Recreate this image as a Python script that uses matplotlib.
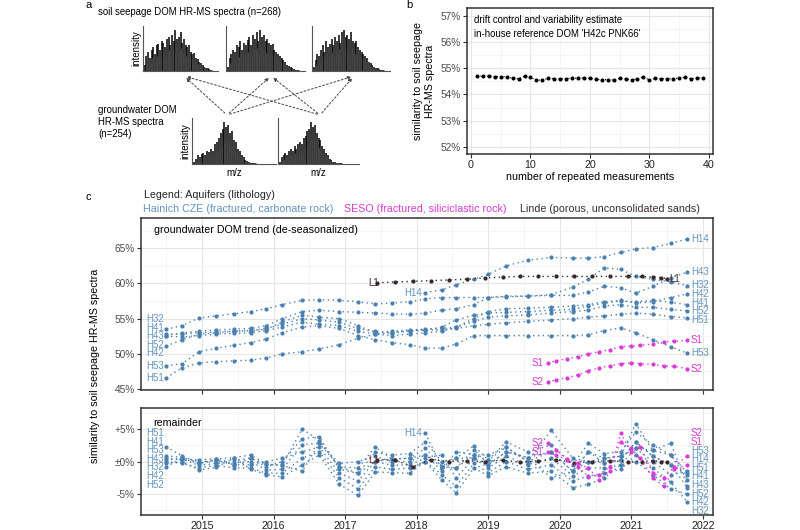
import numpy as np
import matplotlib
matplotlib.use('Agg')
import matplotlib.pyplot as plt
from matplotlib.ticker import FixedLocator

plt.rcParams['font.family'] = ['Liberation Sans', 'DejaVu Sans']

W, H = 800, 530

# ---------------- data ----------------
# panel a: schematic peak heights (relative intensity)
spec_soil_1 = [0.15, 0.35, 0.45, 0.3, 0.5, 0.55, 0.4, 0.6, 0.62, 0.5, 0.7, 0.65, 0.55, 0.75, 0.8, 0.6, 0.85, 0.7, 0.95, 0.75,
               0.8, 0.9, 0.65, 0.75, 0.6, 0.55, 0.6, 0.45, 0.4, 0.42, 0.3, 0.28, 0.22, 0.18, 0.14, 0.1, 0.08, 0.06, 0.04, 0.03]
spec_soil_2 = [0.1, 0.3, 0.4, 0.5, 0.45, 0.6, 0.55, 0.7, 0.5, 0.65, 0.6, 0.72, 0.8, 0.6, 0.85, 0.75, 0.9, 0.7, 0.95, 0.8,
               0.85, 0.7, 0.75, 0.65, 0.6, 0.62, 0.5, 0.45, 0.4, 0.35, 0.3, 0.25, 0.2, 0.15, 0.12, 0.1, 0.07, 0.05, 0.03, 0.02]
spec_soil_3 = [0.1, 0.25, 0.4, 0.35, 0.5, 0.6, 0.45, 0.7, 0.55, 0.62, 0.75, 0.6, 0.8, 0.7, 0.85, 0.65, 0.9, 0.95, 0.8, 0.85,
               0.75, 0.9, 0.7, 0.65, 0.7, 0.55, 0.5, 0.45, 0.4, 0.35, 0.3, 0.22, 0.18, 0.14, 0.1, 0.08, 0.06, 0.04, 0.03, 0.02]
spec_gw_1 = [0.05, 0.12, 0.2, 0.15, 0.22, 0.25, 0.2, 0.3, 0.28, 0.35, 0.3, 0.45, 0.5, 0.6, 0.7, 0.8, 0.95, 0.85, 0.9, 0.7,
             0.75, 0.55, 0.5, 0.35, 0.3, 0.2, 0.15, 0.1, 0.06, 0.04, 0.03, 0.02, 0.02, 0.01, 0.01, 0.01, 0.01, 0.0, 0.0, 0.0]
spec_gw_2 = [0.05, 0.15, 0.2, 0.25, 0.2, 0.3, 0.35, 0.3, 0.4, 0.35, 0.45, 0.5, 0.45, 0.6, 0.65, 0.75, 0.8, 0.95, 0.85, 0.9,
             0.7, 0.6, 0.55, 0.4, 0.35, 0.25, 0.2, 0.12, 0.08, 0.05, 0.04, 0.03, 0.02, 0.02, 0.01, 0.01, 0.01, 0.0, 0.0, 0.0]

# panel b: repeated reference measurements
ref_n = list(range(1, 40))
ref_sim = [54.70, 54.70, 54.70, 54.68, 54.68, 54.68, 54.62, 54.60, 54.70, 54.65, 54.55, 54.55, 54.62, 54.60, 54.60,
           54.60, 54.63, 54.62, 54.63, 54.62, 54.58, 54.56, 54.57, 54.55, 54.62, 54.60, 54.55, 54.60, 54.68, 54.55,
           54.62, 54.60, 54.60, 54.60, 54.62, 54.65, 54.60, 54.63, 54.63]

# panel c: Hainich wells (decimal years)
t_hai = [2014.5, 2014.72, 2014.96, 2015.2, 2015.45, 2015.68, 2015.9, 2016.12, 2016.4, 2016.64, 2016.92, 2017.18,
         2017.42, 2017.65, 2017.9, 2018.12, 2018.35, 2018.55, 2018.8, 2019.0, 2019.25, 2019.55, 2019.88, 2020.18,
         2020.4, 2020.62, 2020.85, 2021.06, 2021.3, 2021.55, 2021.78]
t_h14 = t_hai[15:]
trend_hai = {
    'H32': [53.5, 54.0, 55.1, 55.4, 55.7, 56.0, 56.4, 57.0, 57.6, 57.7, 57.6, 57.4, 57.1, 57.2, 57.4, 57.8, 58.0, 58.0,
            58.0, 58.0, 58.1, 58.2, 58.4, 59.5, 60.6, 62.2, 62.0, 61.0, 60.6, 60.2, 59.7],
    'H43': [52.6, 53.0, 53.2, 53.4, 53.5, 53.6, 54.0, 55.0, 56.0, 56.2, 56.0, 55.9, 55.8, 55.7, 55.6, 55.8, 56.2, 56.4,
            57.0, 58.0, 58.2, 58.2, 58.3, 58.3, 58.8, 59.6, 59.4, 58.6, 59.6, 60.8, 61.6],
    'H42': [51.1, 52.0, 52.8, 53.0, 53.2, 53.3, 53.5, 54.5, 55.5, 55.2, 55.0, 54.0, 53.0, 53.2, 53.4, 53.5, 53.6, 53.8,
            55.0, 56.0, 56.4, 56.5, 56.6, 56.8, 57.0, 57.4, 57.6, 57.2, 57.4, 58.0, 58.5],
    'H41': [52.8, 52.8, 53.0, 53.1, 53.2, 53.3, 53.6, 54.2, 55.0, 54.8, 54.5, 53.6, 53.2, 53.0, 53.3, 53.4, 53.8, 54.8,
            55.5, 55.8, 55.9, 56.0, 56.2, 56.3, 56.8, 57.2, 57.5, 57.4, 57.6, 57.3, 57.0],
    'H52': [52.5, 52.4, 52.6, 52.8, 52.9, 53.0, 53.3, 53.8, 54.5, 54.2, 54.0, 53.2, 52.8, 52.6, 52.8, 53.0, 53.2, 53.8,
            54.6, 55.2, 55.4, 55.5, 55.8, 56.0, 56.2, 56.8, 57.0, 56.6, 56.6, 56.3, 56.1],
    'H51': [46.6, 48.0, 48.7, 48.9, 49.0, 49.1, 49.4, 50.0, 50.3, 50.7, 51.3, 52.2, 52.8, 53.0, 53.2, 53.4, 53.4, 53.6,
            54.0, 54.2, 54.4, 54.6, 54.8, 55.0, 55.2, 55.4, 55.6, 55.8, 55.6, 55.3, 55.1],
    'H53': [48.3, 48.6, 50.3, 50.8, 51.2, 51.6, 52.1, 53.0, 53.8, 54.0, 53.6, 52.6, 52.0, 51.6, 51.3, 50.8, 50.8, 51.4,
            52.6, 52.6, 52.6, 52.6, 52.6, 52.6, 52.7, 53.3, 53.7, 53.0, 52.0, 51.0, 50.1],
}
trend_h14 = [58.7, 59.1, 59.8, 60.6, 61.3, 62.5, 63.3, 63.7, 63.6, 63.6, 63.8, 64.4, 64.9, 65.1, 65.7, 66.3]

rem_hai = {
    'H32': [0.0, -0.3, -1.0, -0.6, -1.0, -1.0, -1.8, -1.8, 0.5, 1.5, -2.5, -4.2, -0.8, -1.2, -1.0, 0.0, -2.0, -3.8,
            -0.3, -1.7, 0.0, -1.2, -0.5, -3.0, -2.2, -1.8, -1.2, 1.0, -1.0, -3.2, -6.2],
    'H43': [0.3, 0.4, -0.6, -0.3, -0.2, 0.0, -1.3, -1.2, 2.6, 2.8, -0.3, 0.0, 0.8, 0.0, 0.0, 1.0, -1.4, 1.5, 1.0, 1.0,
            2.2, 0.0, 4.8, 0.5, 0.0, 0.5, 0.8, 5.8, 1.7, 2.8, -3.7],
    'H42': [-0.3, 0.0, -1.3, -0.9, 0.6, -1.2, -2.0, -2.4, -0.5, 1.0, -3.5, -5.2, -1.6, -1.7, -1.8, 0.0, -2.8, -4.8,
            -1.0, -2.2, -0.8, -1.8, -1.5, -4.0, -3.5, -2.5, -0.5, 0.0, -2.0, -4.2, -5.0],
    'H41': [0.9, 0.6, 0.0, 0.0, 0.2, 0.5, -0.8, 0.0, 3.5, 3.8, -1.2, -1.8, 1.4, 1.0, 1.2, 3.0, 0.0, 0.5, 2.4, 0.2, 3.0,
            1.5, 2.5, -0.5, 2.8, 1.2, 1.5, 4.5, 2.5, 1.0, -2.8],
    'H52': [-0.8, 0.5, -0.3, 0.2, -0.5, 0.5, -0.4, -0.6, -1.5, 2.8, -0.8, -1.8, 0.0, 0.4, 0.5, 1.0, -0.8, 0.5, 0.5,
            -0.5, 1.5, 0.6, -2.5, -1.5, 0.0, -0.2, 0.2, 3.0, 0.8, -0.5, -4.0],
    'H51': [2.2, 0.9, -0.3, 0.4, 0.6, 1.0, -0.4, -0.6, 5.0, 3.2, -0.8, -1.0, 2.2, 0.4, 0.5, 2.0, -0.8, -1.0, 1.8, -0.5,
            1.5, 0.6, 1.5, -1.5, 1.5, -0.2, 0.2, 3.0, 0.8, -0.5, -2.0],
    'H53': [0.6, 0.2, 0.3, 0.4, -0.5, -0.5, 0.0, 0.5, 1.5, 2.2, -1.8, -3.0, 0.0, -0.6, -0.5, 0.5, 1.0, -2.5, 0.5, -1.0,
            0.8, -0.5, 0.5, -2.2, -1.0, -1.0, -0.5, 2.0, 0.0, -2.0, -1.4],
}
rem_h14 = [4.3, -0.8, -1.0, 1.0, 0.2, 2.2, 0.0, 1.5, -1.5, 1.5, 0.5, 0.8, 2.0, 1.7, 1.0, -1.7]

# SESO wells
t_seso = [2019.83, 2019.95, 2020.1, 2020.25, 2020.4, 2020.55, 2020.7, 2020.85, 2021.0, 2021.12, 2021.3, 2021.45,
          2021.6, 2021.78]
trend_s1 = [48.7, 49.0, 49.3, 49.6, 50.0, 50.3, 50.6, 51.0, 51.1, 51.2, 51.4, 51.7, 51.8, 51.9]
trend_s2 = [46.0, 46.3, 46.6, 47.0, 47.6, 48.0, 48.3, 48.6, 48.7, 48.6, 48.5, 48.3, 48.2, 47.9]
rem_s1 = [1.5, 1.0, 0.2, -0.8, -2.3, -2.0, -0.8, 3.0, 2.0, 0.5, -2.5, -3.8, -1.2, -0.5]
rem_s2 = [2.8, 1.8, 0.4, -0.3, -1.0, -2.8, -1.5, 4.3, 1.5, 2.2, -1.8, -2.5, -0.8, 0.9]

# Linde well
t_linde = [2017.45, 2017.7, 2017.95, 2018.2, 2018.45, 2018.7, 2018.95, 2019.2, 2019.45, 2019.7, 2019.95, 2020.2,
           2020.45, 2020.7, 2020.95, 2021.15, 2021.3, 2021.42, 2021.5]
trend_l1 = [60.1, 60.2, 60.3, 60.4, 60.5, 60.6, 60.8, 60.9, 61.0, 61.0, 61.0, 61.0, 61.0, 61.0, 61.0, 61.0, 60.9,
            60.8, 60.7]
rem_l1 = [0.3, 0.2, -0.8, 0.3, 0.0, 0.1, 0.0, 0.2, -0.1, 0.1, 0.3, -0.2, 0.0, 0.1, 0.0, 0.0, 0.1, 0.0, -0.1]

col_hai = '#4a80b0'
col_hai_txt = '#6395c2'
col_seso = '#d93bd6'
col_linde = '#3a2828'
col_frame = '#333333'
col_tick = '#4d4d4d'

FS = 7.7      # general text
FS_TICK = 7.3
FS_LAB = 7.0  # series labels


def px_axes(l, t, r, b):
    return fig.add_axes([l / W, 1 - b / H, (r - l) / W, (b - t) / H])


def bw_style(ax):
    # ggplot theme_bw look
    for s in ax.spines.values():
        s.set_color(col_frame)
        s.set_linewidth(1.1)
    ax.grid(which='major', color='#e6e6e6', lw=0.8)
    ax.grid(which='minor', color='#f2f2f2', lw=0.5)
    ax.set_axisbelow(True)
    ax.tick_params(which='major', direction='out', length=3, width=0.8, color=col_frame,
                   labelsize=FS_TICK, labelcolor=col_tick, pad=1.5)
    ax.tick_params(which='minor', length=0)


fig = plt.figure(figsize=(8, 5.3), dpi=100)

# ---------------- panel a ----------------
fig.text(86 / W, 1 - 5 / H, 'a', fontsize=8, va='center')
fig.text(98 / W, 1 - 12 / H, 'soil seepage DOM HR-MS spectra (n=268)', fontsize=6.9, va='center')
fig.text(98 / W, 1 - 122 / H, 'groundwater DOM\nHR-MS spectra\n(n=254)', fontsize=6.9, va='center',
         linespacing=1.25)

spec_boxes = [(143, 26, 218, 71), (226, 26, 305, 71), (312, 26, 390, 71),
              (192, 118, 276, 164), (278, 118, 359, 164)]
spectra = [spec_soil_1, spec_soil_2, spec_soil_3, spec_gw_1, spec_gw_2]
for k, (box, sp) in enumerate(zip(spec_boxes, spectra)):
    ax = px_axes(*box)
    x = np.arange(len(sp))
    ax.vlines(x, 0, sp, color='black', lw=1.1)
    ax.vlines(x + 0.5, 0, np.array(sp) * 0.6, color='#444444', lw=0.8)
    ax.set_xlim(-1, len(sp) + 3)
    ax.set_ylim(0, 1.05)
    ax.set_xticks([])
    ax.set_yticks([])
    ax.spines['top'].set_visible(False)
    ax.spines['right'].set_visible(False)
    ax.spines['left'].set_color('#555555')
    ax.spines['bottom'].set_color('#555555')
    if k in (0, 3):
        ax.set_ylabel('intensity', fontsize=7, labelpad=1)
    if k >= 3:
        ax.set_xlabel('m/z', fontsize=7, labelpad=3)

# dotted arrows from groundwater spectra to soil spectra
for sx in (227, 320):
    for tx in (184, 271, 354):
        fig.add_artist(matplotlib.patches.FancyArrowPatch(
            (sx / W, 1 - 115 / H), (tx / W, 1 - 76 / H), transform=fig.transFigure,
            arrowstyle='-|>', mutation_scale=5, color='#444444', lw=0.7, linestyle=(0, (2, 2))))

# ---------------- panel b ----------------
fig.text(406 / W, 1 - 5 / H, 'b', fontsize=8, va='center')
axb = px_axes(467, 8, 713, 154)
bw_style(axb)
axb.plot(ref_n, ref_sim, linestyle=(0, (1, 2)), color='black', lw=0.8, marker='o', ms=1.9)
axb.set_xlim(-0.67, 40.7)
axb.set_ylim(51.73, 57.3)
axb.set_yticks([52, 53, 54, 55, 56, 57])
axb.set_yticklabels([f'{v}%' for v in [52, 53, 54, 55, 56, 57]])
axb.set_xticks([0, 10, 20, 30, 40])
axb.tick_params(axis='x', labelsize=7.7, labelcolor='#222222')
axb.yaxis.set_minor_locator(FixedLocator(np.arange(51.5, 57.6, 0.5)))
axb.xaxis.set_minor_locator(FixedLocator([5, 15, 25, 35]))
axb.set_xlabel('number of repeated measurements', fontsize=FS, labelpad=1)
axb.set_ylabel('similarity to soil seepage\nHR-MS spectra', fontsize=FS, labelpad=4)
axb.text(0.03, 0.955, "drift control and variability estimate\nin-house reference DOM 'H42c PNK66'",
         transform=axb.transAxes, fontsize=6.9, va='top', linespacing=1.6)

# ---------------- panel c ----------------
fig.text(86 / W, 1 - 197 / H, 'c', fontsize=8, va='center')
fig.text(144 / W, 1 - 195 / H, 'Legend: Aquifers (lithology)', fontsize=FS, va='center', color='#222222')
fig.text(143 / W, 1 - 209 / H, 'Hainich CZE (fractured, carbonate rock)', fontsize=FS, va='center',
         color=col_hai_txt)
fig.text(344 / W, 1 - 209 / H, 'SESO (fractured, siliciclastic rock)', fontsize=FS, va='center', color=col_seso)
fig.text(520 / W, 1 - 209 / H, 'Linde (porous, unconsolidated sands)', fontsize=FS, va='center', color='#3a2d2d')

axt = px_axes(141, 218, 713, 389.5)
axr = px_axes(141, 408, 713, 515)
years = list(range(2015, 2023))
for ax in (axt, axr):
    bw_style(ax)
    ax.set_xlim(2014.148, 2022.14)
    ax.set_xticks(years)
    ax.xaxis.set_minor_locator(FixedLocator([y + 0.5 for y in range(2014, 2022)]))
axt.set_xticklabels([])
axr.set_xticklabels([str(y) for y in years])
axr.tick_params(axis='x', labelsize=7.7, labelcolor='#222222')

axt.set_ylim(44.93, 69.3)
axt.set_yticks([45, 50, 55, 60, 65])
axt.set_yticklabels([f'{v}%' for v in [45, 50, 55, 60, 65]])
axt.yaxis.set_minor_locator(FixedLocator([47.5, 52.5, 57.5, 62.5, 67.5]))
axr.set_ylim(-8.2, 8.2)
axr.set_yticks([-5, 0, 5])
axr.set_yticklabels(['-5%', '±0%', '+5%'])
axr.yaxis.set_minor_locator(FixedLocator([-7.5, -2.5, 2.5, 7.5]))

axt.text(0.022, 0.93, 'groundwater DOM trend (de-seasonalized)', transform=axt.transAxes, fontsize=FS,
         va='center')
axr.text(0.022, 0.86, 'remainder', transform=axr.transAxes, fontsize=FS, va='center')

line_kw = dict(linestyle=(0, (1, 2.5)), lw=1.0, marker='o', ms=2.0)
labels = {}   # (axis, side, x) -> list of [name, y, colour]


def draw_series(ax, t, v, name, col, txtcol, left=True, right=True):
    ax.plot(t, v, color=col, **line_kw)
    if left:
        labels.setdefault((ax, 'right', round(t[0], 1)), []).append([name, v[0], txtcol])
    if right:
        labels.setdefault((ax, 'left', round(t[-1], 1)), []).append([name, v[-1], txtcol])


def place_labels(gap_px=8.6):
    # simple label repel: push labels of one group apart vertically
    for (ax, ha, x), items in labels.items():
        y0, y1 = ax.get_ylim()
        hpx = ax.get_position().height * H
        gap = gap_px * (y1 - y0) / hpx
        items.sort(key=lambda it: it[1])
        ys = [it[1] for it in items]
        for _ in range(300):
            for i in range(1, len(ys)):
                d = ys[i] - ys[i - 1]
                if d < gap:
                    s = (gap - d) / 2
                    ys[i] += s
                    ys[i - 1] -= s
        lo, hi = y0 + 0.5 * gap, y1 - 0.5 * gap
        if ys and ys[0] < lo:
            ys = [y + lo - ys[0] for y in ys]
        if ys and ys[-1] > hi:
            ys = [y - (ys[-1] - hi) for y in ys]
        for it, y in zip(items, ys):
            dx = -0.03 if ha == 'right' else 0.03
            ax.text(x + dx, y, it[0], ha=ha, va='center', fontsize=FS_LAB, color=it[2], clip_on=False)


for name in trend_hai:
    draw_series(axt, t_hai, trend_hai[name], name, col_hai, col_hai_txt)
    draw_series(axr, t_hai, rem_hai[name], name, col_hai, col_hai_txt)
draw_series(axt, t_h14, trend_h14, 'H14', col_hai, col_hai_txt)
draw_series(axr, t_h14, rem_h14, 'H14', col_hai, col_hai_txt)

draw_series(axt, t_linde, trend_l1, 'L1', col_linde, col_linde)
draw_series(axr, t_linde, rem_l1, 'L1', col_linde, '#6b2020', right=False)

draw_series(axt, t_seso, trend_s1, 'S1', col_seso, col_seso)
draw_series(axt, t_seso, trend_s2, 'S2', col_seso, col_seso)
draw_series(axr, t_seso, rem_s1, 'S1', col_seso, col_seso)
draw_series(axr, t_seso, rem_s2, 'S2', col_seso, col_seso)
place_labels()

fig.text(95 / W, 1 - 366 / H, 'similarity to soil seepage HR-MS spectra', fontsize=FS, rotation=90,
         ha='center', va='center')

fig.savefig('out.png', dpi=100)
